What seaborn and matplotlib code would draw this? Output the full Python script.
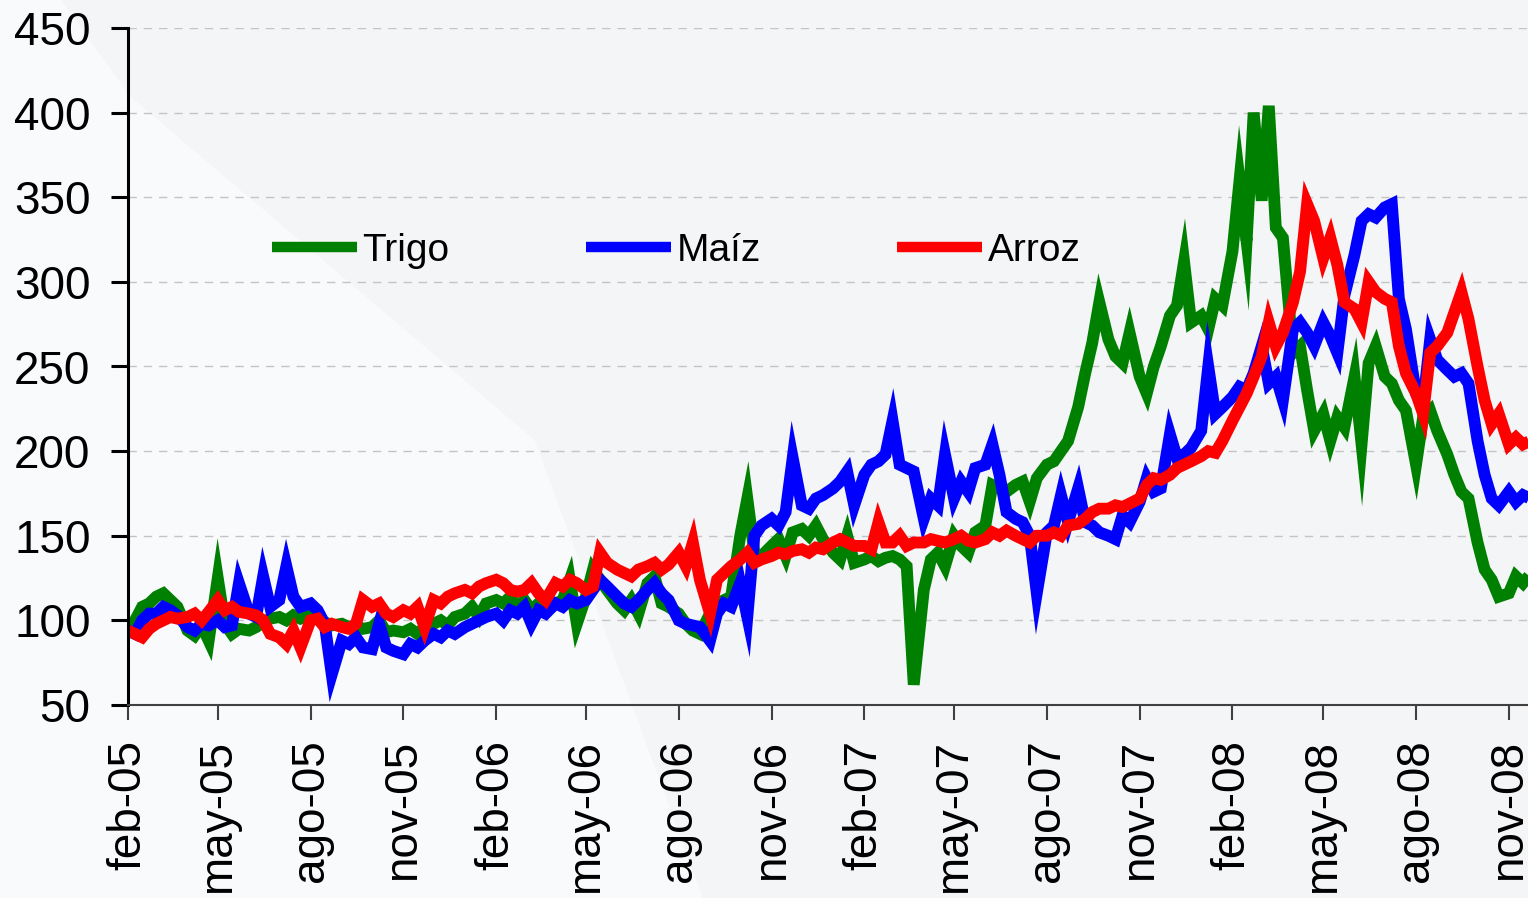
import numpy as np
import pandas as pd
import seaborn as sns
import matplotlib.pyplot as plt
from matplotlib.lines import Line2D
from matplotlib.patches import Polygon

# one row per month (feb-05 .. nov-08), values on days 1, 8, 15 and 22
trigo = [
    96, 100, 108, 110,   114, 116, 112, 108,   94, 91, 97, 88,   125, 98, 92, 95,
    94, 96, 99, 101,   102, 100, 103, 101,   103, 101, 99, 97,   98, 96, 97, 95,
    96, 100, 93, 94,   93, 95, 92, 96,   98, 100, 97, 102,
    104, 108, 102, 110,   112, 110, 114, 108,   112, 106, 110, 108,   110, 112, 124, 98,
    114, 130, 124, 118,   110, 106, 112, 104,   122, 126, 110, 108,   104, 98, 94, 92,
    104, 110, 112, 114,   150, 172, 140, 138,   144, 148, 138, 152,   154, 150, 156, 148,
    140, 136, 150, 134,   136, 138, 135, 137,   138, 136, 132, 62,   118, 136, 140, 132,
    150, 144, 140, 152,   156, 180, 178, 176,   180, 182, 170, 184,   192, 194, 200, 206,
    226, 246, 264, 288,   266, 256, 252, 270,   244, 234, 250, 262,   280, 286, 312, 276,
    280, 272, 290, 286,   318, 360, 324, 400,   348, 404, 332, 326,   258, 262, 236, 212,
    222, 206, 220, 214,   244, 204, 252, 262,   244, 240, 230, 224,   192, 220, 224, 212,
    198, 186, 176, 172,   146, 130, 124, 114,   116, 126, 122, 127,
]
maiz = [
    94, 92, 100, 104,   104, 108, 106, 103,   96, 94, 98, 97,   100, 96, 97, 122,
    104, 102, 126, 108,   112, 132, 114, 108,   110, 106, 98, 68,   88, 86, 90, 84,
    83, 98, 84, 82,   80, 86, 84, 88,   92, 90, 94, 92,
    96, 98, 100, 102,   104, 100, 106, 104,   108, 98, 106, 104,   110, 108, 112, 110,
    112, 118, 124, 120,   114, 110, 108, 112,   118, 122, 116, 112,   100, 98, 97, 96,
    88, 104, 110, 108,   122, 102, 150, 156,   160, 156, 164, 196,   168, 166, 172, 174,
    178, 182, 188, 168,   186, 192, 194, 198,   218, 192, 190, 188,   160, 172, 168, 198,
    172, 182, 176, 190,   192, 204, 186, 164,   160, 158, 150, 116,   152, 156, 174, 158,
    178, 158, 156, 152,   150, 148, 162, 158,   170, 184, 176, 178,   210, 196, 198, 202,
    212, 250, 222, 226,   232, 238, 236, 246,   262, 240, 244, 230,   272, 276, 270, 262,
    276, 268, 258, 292,   316, 336, 340, 338,   344, 346, 290, 272,   234, 228, 266, 254,
    248, 244, 246, 240,   206, 186, 172, 168,   176, 170, 174, 172,
]
arroz = [
    94, 92, 90, 95,   98, 100, 102, 101,   102, 104, 100, 105,   112, 106, 108, 105,
    104, 103, 100, 92,   90, 86, 94, 84,   100, 101, 96, 98,   96, 95, 98, 112,
    108, 110, 104, 102,   106, 104, 108, 96,   112, 110, 114, 116,
    118, 116, 120, 122,   124, 122, 118, 117,   118, 122, 116, 112,   122, 120, 124, 122,
    118, 120, 140, 134,   130, 128, 126, 130,   132, 134, 130, 133,   140, 132, 146, 124,
    104, 124, 128, 132,   136, 140, 134, 136,   138, 140, 139, 141,   142, 140, 143, 142,
    146, 148, 146, 144,   144, 142, 158, 146,   146, 150, 144, 146,   146, 148, 147, 146,
    148, 150, 147, 146,   148, 152, 150, 153,   150, 148, 146, 150,   150, 152, 150, 156,
    157, 160, 164, 166,   166, 168, 167, 169,   172, 180, 184, 183,   186, 190, 192, 194,
    197, 200, 199, 206,   218, 226, 234, 244,   256, 276, 262, 270,   288, 306, 346, 336,
    314, 326, 310, 288,   284, 276, 300, 294,   290, 288, 262, 246,   234, 222, 258, 262,
    270, 282, 294, 278,   250, 230, 216, 222,   204, 208, 204, 206,
]

series = ['Trigo', 'Maíz', 'Arroz']
colores = ['#008000', '#0000ff', '#ff0000']
tick_labels = ['feb-05', 'may-05', 'ago-05', 'nov-05', 'feb-06', 'may-06', 'ago-06', 'nov-06',
               'feb-07', 'may-07', 'ago-07', 'nov-07', 'feb-08', 'may-08', 'ago-08', 'nov-08']

meses = pd.date_range('2005-02-01', '2008-11-01', freq='MS')
fechas = [m + pd.Timedelta(days=d) for m in meses for d in (0, 7, 14, 21)]

df = pd.DataFrame({
    'fecha': fechas * 3,
    'valor': trigo + maiz + arroz,
    'serie': np.repeat(series, len(fechas)),
})

sns.set_style('ticks')
plt.rcParams['font.family'] = ['Liberation Sans', 'DejaVu Sans']
plt.rcParams['text.color'] = 'black'

fig = plt.figure(figsize=(15.28, 8.98), dpi=100, facecolor='#f4f5f7')
# lighter textured area on the left of the slide background
fondo = Polygon([(0, 1), (0.04, 1), (0.085, 0.893), (0.35, 0.51), (0.46, 0.0), (0, 0)],
                closed=True, transform=fig.transFigure, facecolor='#f9fafc',
                edgecolor='none', zorder=-1)
fig.add_artist(fondo)

ax = fig.add_axes([128 / 1528, 1 - 705 / 898, 1 - 128 / 1528, 677 / 898])
ax.set_facecolor('none')

sns.lineplot(data=df, x='fecha', y='valor', hue='serie', hue_order=series,
             palette=colores, linewidth=8.5, estimator=None, legend=False, ax=ax)
for ln in ax.lines:
    ln.set_solid_joinstyle('miter')
    ln.set_solid_capstyle('butt')

ax.set_ylim(50, 450)
ax.set_yticks(range(50, 451, 50))
ax.set_xlim(pd.Timestamp('2005-02-01'), pd.Timestamp('2008-11-20'))
ax.set_xticks(pd.date_range('2005-02-01', '2008-11-01', freq='3MS'))
ax.set_xticklabels(tick_labels, rotation=90)
ax.set_xlabel('')
ax.set_ylabel('')

ax.yaxis.grid(True, linestyle=(0, (6, 5)), color='#c4c4c4', linewidth=1)
ax.set_axisbelow(True)

for s in ['top', 'right']:
    ax.spines[s].set_visible(False)
ax.spines['left'].set_linewidth(2.2)
ax.spines['left'].set_color('black')
ax.spines['bottom'].set_linewidth(1.5)
ax.spines['bottom'].set_color('#404040')
ax.tick_params(axis='y', length=12, width=2.2, pad=15, labelsize=33, colors='black')
ax.tick_params(axis='x', length=11, width=1.5, pad=14, labelsize=33, color='#404040',
               labelcolor='black')

handles = [Line2D([0], [0], color=c, linewidth=7.5, solid_capstyle='butt') for c in colores]
ax.legend(handles, series, ncol=3, frameon=False, fontsize=28, handlelength=2.18,
          handletextpad=0.15, columnspacing=3.5, borderpad=0, borderaxespad=0,
          loc='center left', bbox_to_anchor=(272 / 1528, 1 - 251 / 898),
          bbox_transform=fig.transFigure, labelcolor='black')

fig.savefig('out.png', dpi=100, facecolor=fig.get_facecolor())
